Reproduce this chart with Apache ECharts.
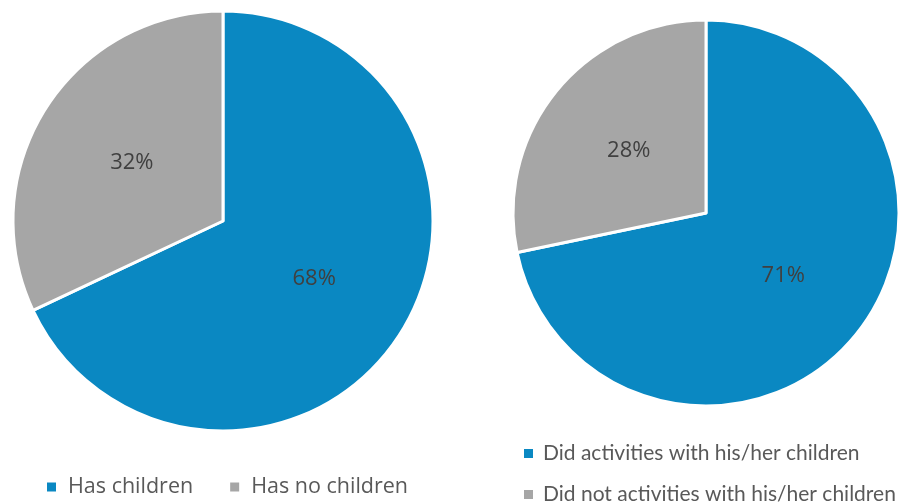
<!DOCTYPE html>
<html>
<head>
<meta charset="utf-8">
<script src="https://cdn.jsdelivr.net/npm/echarts@6/dist/echarts.min.js"></script>
<style>
  html, body { margin: 0; padding: 0; background: #fff; }
  #chart { width: 898px; height: 504px; }
</style>
</head>
<body>
<div id="chart"></div>
<script>
// Share of respondents with children
const childrenCategories = ['Has children', 'Has no children'];
const childrenValues = [68, 32];

// Among parents: did activities with their children
const activityCategories = ['Did activities with his/her children', 'Did not activities with his/her children'];
const activityValues = [71, 28];

const BLUE = '#0a88c2';
const GRAY = '#a6a6a6';

function toData(names, values) {
  return names.map((n, i) => ({ name: n, value: values[i] }));
}

const pieCommon = {
  type: 'pie',
  startAngle: 90,
  clockwise: true,
  silent: true,
  animation: false,
  itemStyle: { borderColor: '#ffffff', borderWidth: 3 },
  label: {
    show: true,
    position: 'inside',
    formatter: p => p.value + '%',
    color: '#404040',
    fontFamily: '"Open Sans", sans-serif',
    fontSize: 22
  },
  labelLine: { show: false }
};

// Legend swatches: plain squares without the slice border
const legendCommon = {
  icon: 'rect',
  itemWidth: 9,
  itemHeight: 9,
  itemStyle: { borderWidth: 0 },
  selectedMode: false
};

const chart = echarts.init(document.getElementById('chart'), null, { renderer: 'canvas' });
chart.setOption({
  color: [BLUE, GRAY],
  legend: [
    Object.assign({}, legendCommon, {
      data: childrenCategories,
      left: 42,
      top: 471,
      itemGap: 37,
      textStyle: { color: '#595959', fontSize: 21.5, fontFamily: '"Open Sans", sans-serif', padding: [0, 0, 0, 7] }
    }),
    Object.assign({}, legendCommon, {
      data: [activityCategories[0]],
      left: 519,
      top: 438,
      textStyle: { color: '#595959', fontSize: 21, fontFamily: 'Lato, sans-serif', padding: [0, 0, 0, 5] }
    }),
    Object.assign({}, legendCommon, {
      data: [activityCategories[1]],
      left: 519,
      top: 479,
      textStyle: { color: '#595959', fontSize: 21, fontFamily: 'Lato, sans-serif', padding: [0, 0, 0, 5] }
    })
  ],
  series: [
    Object.assign({}, pieCommon, {
      name: 'Children',
      center: [223, 221],
      radius: 210,
      data: toData(childrenCategories, childrenValues)
    }),
    Object.assign({}, pieCommon, {
      name: 'Activities',
      center: [706, 213],
      radius: 193,
      data: toData(activityCategories, activityValues)
    })
  ]
});
</script>
</body>
</html>
